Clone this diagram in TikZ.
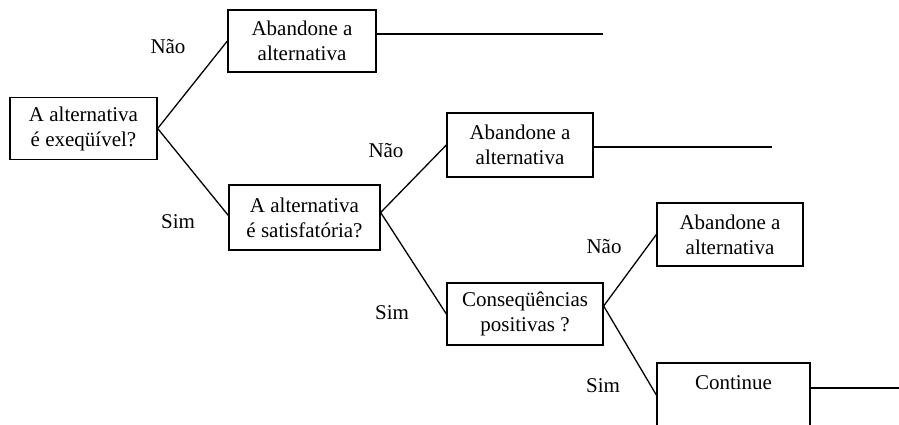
\documentclass[tikz,border=0pt]{standalone}
\usepackage{fontspec}
\setmainfont{Liberation Serif}
\begin{document}
\begin{tikzpicture}[x=1pt,y=-1pt,
  every node/.style={font=\fontsize{21}{25}\selectfont},
  box/.style={draw, line width=1.3pt, rectangle, align=center, inner sep=2pt,
              minimum height=62pt},
  link/.style={line width=1.3pt},
  lbl/.style={inner sep=0pt}]
\clip (0,0) rectangle (899,425);
% decision boxes
\node[box, minimum width=147pt] (q1) at (83.5,128.5) {A alternativa\\é exeqüível?};
\node[box, minimum width=151pt, minimum height=65pt] (q2) at (304.5,217.5) {A alternativa\\é satisfatória?};
\node[box, minimum width=156pt] (q3) at (525,314) {Conseqüências\\positivas ?};
% outcome boxes
\node[box, minimum width=148pt] (a1) at (302,41) {Abandone a\\alternativa};
\node[box, minimum width=146pt, minimum height=64pt] (a2) at (520,145) {Abandone a\\alternativa};
\node[box, minimum width=146pt, minimum height=63pt] (a3) at (730,234.5) {Abandone a\\alternativa};
\node[box, minimum width=153pt, minimum height=66pt] (cont) at (733.5,396) {\raisebox{-5pt}{Continue}\\\strut};
% free ends of the outgoing lines
\coordinate (e1) at (603,34);
\coordinate (e2) at (772,147);
\coordinate (e3) at (899,388);
% branches
\draw[link] (q1.east) -- (a1.west);
\draw[link] (q1.east) -- ([yshift=2pt]q2.west);
\draw[link] ([yshift=5pt]q2.east) -- (a2.west);
\draw[link] ([yshift=5pt]q2.east) -- (q3.west);
\draw[link] ([yshift=8pt]q3.east) -- (a3.west);
\draw[link] ([yshift=8pt]q3.east) -- ([yshift=1pt]cont.west);
\draw[link] (a1.east |- e1) -- (e1);
\draw[link] (a2.east |- e2) -- (e2);
\draw[link] (cont.east |- e3) -- (e3);
% branch labels
\node[lbl] (n1) at (168,47) {Não};
\node[lbl] (s1) at (178,222) {Sim};
\node[lbl] (n2) at (386,151) {Não};
\node[lbl] (s2) at (392,313) {Sim};
\node[lbl] (n3) at (604,247) {Não};
\node[lbl] (s3) at (603,386) {Sim};
\end{tikzpicture}
\end{document}
